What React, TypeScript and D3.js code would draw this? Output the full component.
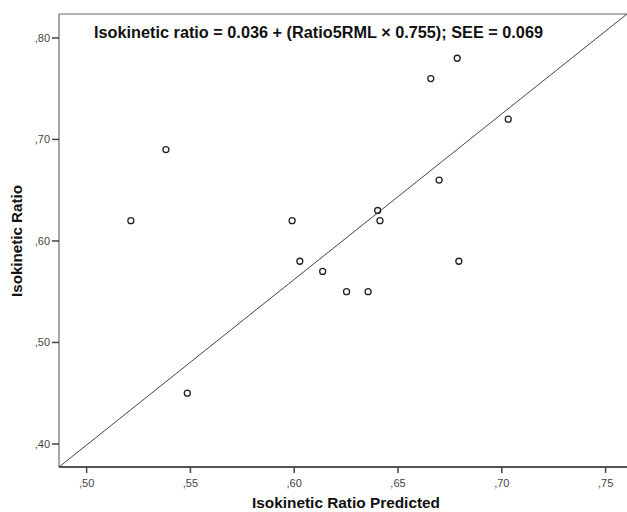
import React, { useEffect, useRef } from "react";
import * as d3 from "d3";

const predicted = [0.5213, 0.5382, 0.5485, 0.599, 0.6027, 0.6137, 0.6252, 0.6356, 0.6402, 0.6413, 0.6658, 0.6698, 0.6785, 0.6793, 0.7031];
const observed = [0.62, 0.69, 0.45, 0.62, 0.58, 0.57, 0.55, 0.55, 0.63, 0.62, 0.76, 0.66, 0.78, 0.58, 0.72];
const xTicks = [0.5, 0.55, 0.6, 0.65, 0.7, 0.75];
const yTicks = [0.4, 0.5, 0.6, 0.7, 0.8];
const refLineX = [0.4867, 0.7603];
const refLineY = [0.3773, 0.8236];
const titleText = "Isokinetic ratio = 0.036 + (Ratio5RML × 0.755); SEE = 0.069";
const xLabel = "Isokinetic Ratio Predicted";
const yLabel = "Isokinetic Ratio";

const W = 627;
const H = 512;
const fmt = (v: number) => "," + d3.format(".2f")(v).split(".")[1];

export default function App() {
  const ref = useRef<SVGSVGElement>(null);
  useEffect(() => {
    const svg = d3.select(ref.current);
    svg.selectAll("*").remove();
    const left = 59, top = 14, right = 627, bottom = 467;
    const x = d3.scaleLinear().domain([0.4867, 0.7603]).range([left, right]);
    const y = d3.scaleLinear().domain([0.3773, 0.8236]).range([bottom, top]);
    const font = "'Liberation Sans', Arial, sans-serif";

    svg.append("defs").append("clipPath").attr("id", "plotclip")
      .append("rect").attr("x", left).attr("y", top).attr("width", right - left).attr("height", bottom - top);

    svg.append("line").attr("x1", left).attr("x2", right).attr("y1", top).attr("y2", top)
      .attr("stroke", "#9a9a9a").attr("stroke-width", 1.3);
    svg.append("line").attr("x1", left).attr("x2", left).attr("y1", top).attr("y2", bottom)
      .attr("stroke", "#8a8a8a").attr("stroke-width", 1.5);
    svg.append("line").attr("x1", left).attr("x2", right).attr("y1", bottom).attr("y2", bottom)
      .attr("stroke", "#555").attr("stroke-width", 1.8);

    const xt = svg.append("g");
    xTicks.forEach((t) => {
      xt.append("line").attr("x1", x(t)).attr("x2", x(t)).attr("y1", bottom).attr("y2", bottom + 6)
        .attr("stroke", "#444").attr("stroke-width", 1.5);
      xt.append("text").attr("x", x(t)).attr("y", bottom + 20).attr("text-anchor", "middle")
        .attr("font-family", font).attr("font-size", 11).attr("fill", "#444").text(fmt(t));
    });
    const yt = svg.append("g");
    yTicks.forEach((t) => {
      yt.append("line").attr("x1", left - 7).attr("x2", left).attr("y1", y(t)).attr("y2", y(t))
        .attr("stroke", "#444").attr("stroke-width", 1.5);
      yt.append("text").attr("x", left - 9).attr("y", y(t) + 4).attr("text-anchor", "end")
        .attr("font-family", font).attr("font-size", 11).attr("fill", "#444").text(fmt(t));
    });

    const lineData = refLineX.map((v, i) => [v, refLineY[i]] as [number, number]);
    svg.append("path").attr("clip-path", "url(#plotclip)")
      .attr("d", d3.line<[number, number]>().x((d) => x(d[0])).y((d) => y(d[1]))(lineData) as string)
      .attr("fill", "none").attr("stroke", "#444").attr("stroke-width", 1);

    svg.append("g").selectAll("circle").data(predicted.map((p, i) => [p, observed[i]]))
      .join("circle")
      .attr("cx", (d) => x(d[0])).attr("cy", (d) => y(d[1])).attr("r", 3)
      .attr("fill", "none").attr("stroke", "#222").attr("stroke-width", 1.3);

    svg.append("text").attr("x", 94).attr("y", 38).attr("font-family", font)
      .attr("font-weight", "bold").attr("font-size", 16).attr("fill", "#111")
      .attr("textLength", 449).attr("lengthAdjust", "spacingAndGlyphs").text(titleText);

    svg.append("text").attr("x", 346).attr("y", 508).attr("text-anchor", "middle").attr("font-family", font)
      .attr("font-weight", "bold").attr("font-size", 15).attr("fill", "#111")
      .attr("textLength", 188).attr("lengthAdjust", "spacingAndGlyphs").text(xLabel);
    svg.append("text").attr("transform", "translate(22,241) rotate(-90)").attr("text-anchor", "middle")
      .attr("font-family", font).attr("font-weight", "bold").attr("font-size", 15).attr("fill", "#111")
      .attr("textLength", 112).attr("lengthAdjust", "spacingAndGlyphs").text(yLabel);
  }, []);
  return (
    <svg ref={ref} width={W} height={H} style={{ position: "absolute", left: 0, top: 0, background: "#fff" }} />
  );
}
